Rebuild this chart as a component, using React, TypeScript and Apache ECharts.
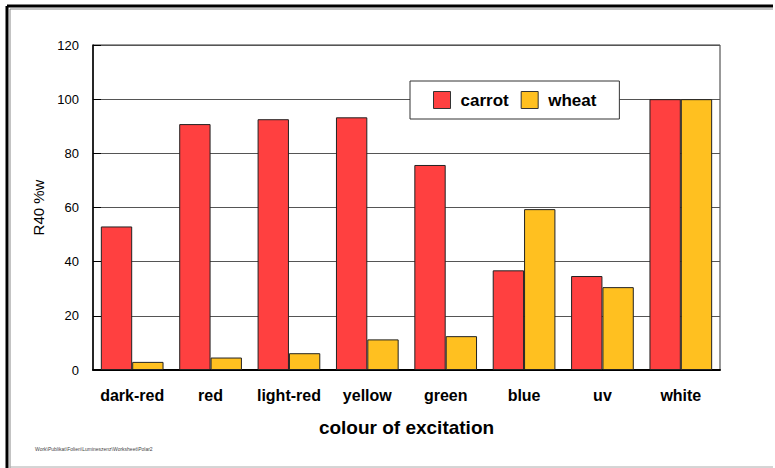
import React, { useEffect, useRef } from "react";
import * as echarts from "echarts";

const categories = ["dark-red", "red", "light-red", "yellow", "green", "blue", "uv", "white"];
const carrot = [53, 90.8, 92.6, 93.3, 75.7, 36.8, 34.7, 100];
const wheat = [3, 4.6, 6.2, 11.3, 12.5, 59.4, 30.6, 100];
const seriesNames = ["carrot", "wheat"];
const yTicks = { min: 0, max: 120, interval: 20 };

const FONT = "'Liberation Sans', Arial, sans-serif";

export default function App() {
  const ref = useRef<HTMLDivElement>(null);
  useEffect(() => {
    const chart = echarts.init(ref.current!, null, { renderer: "svg" });
    chart.setOption({
      animation: false,
      backgroundColor: "#fff",
      textStyle: { fontFamily: FONT },
      grid: { left: 93, top: 45, right: 55, bottom: 98, show: true, borderColor: "#333", borderWidth: 1 },
      legend: {
        data: seriesNames,
        icon: "rect",
        left: 410,
        top: 81,
        padding: [10, 23, 10, 23],
        itemWidth: 17,
        itemHeight: 17,
        itemGap: 12,
        backgroundColor: "#fff",
        borderColor: "#333",
        borderWidth: 1,
        itemStyle: { borderColor: "#333", borderWidth: 1 },
        textStyle: { fontSize: 17, fontWeight: "bold", color: "#000", fontFamily: FONT, padding: [0, 0, 0, 5] },
      },
      xAxis: {
        type: "category",
        data: categories,
        axisLine: { lineStyle: { color: "#000", width: 2 } },
        axisTick: { show: false },
        axisLabel: { interval: 0, fontSize: 16, fontWeight: "bold", color: "#000", margin: 17, fontFamily: FONT },
        name: "colour of excitation",
        nameLocation: "middle",
        nameGap: 48,
        nameTextStyle: { fontSize: 19, fontWeight: "bold", color: "#000", fontFamily: FONT },
      },
      yAxis: {
        type: "value",
        min: yTicks.min,
        max: yTicks.max,
        interval: yTicks.interval,
        axisLine: { show: true, lineStyle: { color: "#000", width: 1.5 } },
        axisTick: { show: true, inside: true, length: 8, lineStyle: { color: "#000" } },
        splitLine: { lineStyle: { color: "#555", width: 1 } },
        axisLabel: { fontSize: 13, color: "#000", margin: 14 },
        name: "R40 %w",
        nameLocation: "middle",
        nameGap: 46,
        nameTextStyle: { fontSize: 15, color: "#000" },
      },
      series: [
        {
          name: seriesNames[0],
          type: "bar",
          data: carrot,
          barGap: "0%",
          barCategoryGap: "20%",
          itemStyle: { color: "#FF4040", borderColor: "#222", borderWidth: 1 },
        },
        {
          name: seriesNames[1],
          type: "bar",
          data: wheat,
          itemStyle: { color: "#FFC020", borderColor: "#222", borderWidth: 1 },
        },
      ],
      graphic: [
        { type: "line", shape: { x1: 7, y1: 6, x2: 773, y2: 6 }, style: { stroke: "#000", lineWidth: 3 } },
        { type: "line", shape: { x1: 7, y1: 6, x2: 7, y2: 468 }, style: { stroke: "#000", lineWidth: 3 } },
        { type: "line", shape: { x1: 10, y1: 9, x2: 773, y2: 9 }, style: { stroke: "#888", lineWidth: 1 } },
        { type: "line", shape: { x1: 10, y1: 9, x2: 10, y2: 468 }, style: { stroke: "#888", lineWidth: 1 } },
        { type: "line", shape: { x1: 10, y1: 467, x2: 773, y2: 467 }, style: { stroke: "#aaa", lineWidth: 1 } },
        {
          type: "text",
          left: 35,
          top: 446,
          style: { text: "Work\\Publikat\\Folien\\Lumineszenz\\Worksheet\\Polar2", fontSize: 5, fill: "#444", fontFamily: FONT },
        },
      ],
    });
    return () => chart.dispose();
  }, []);
  return <div ref={ref} style={{ width: 775, height: 468, position: "absolute", left: 0, top: 0 }} />;
}
